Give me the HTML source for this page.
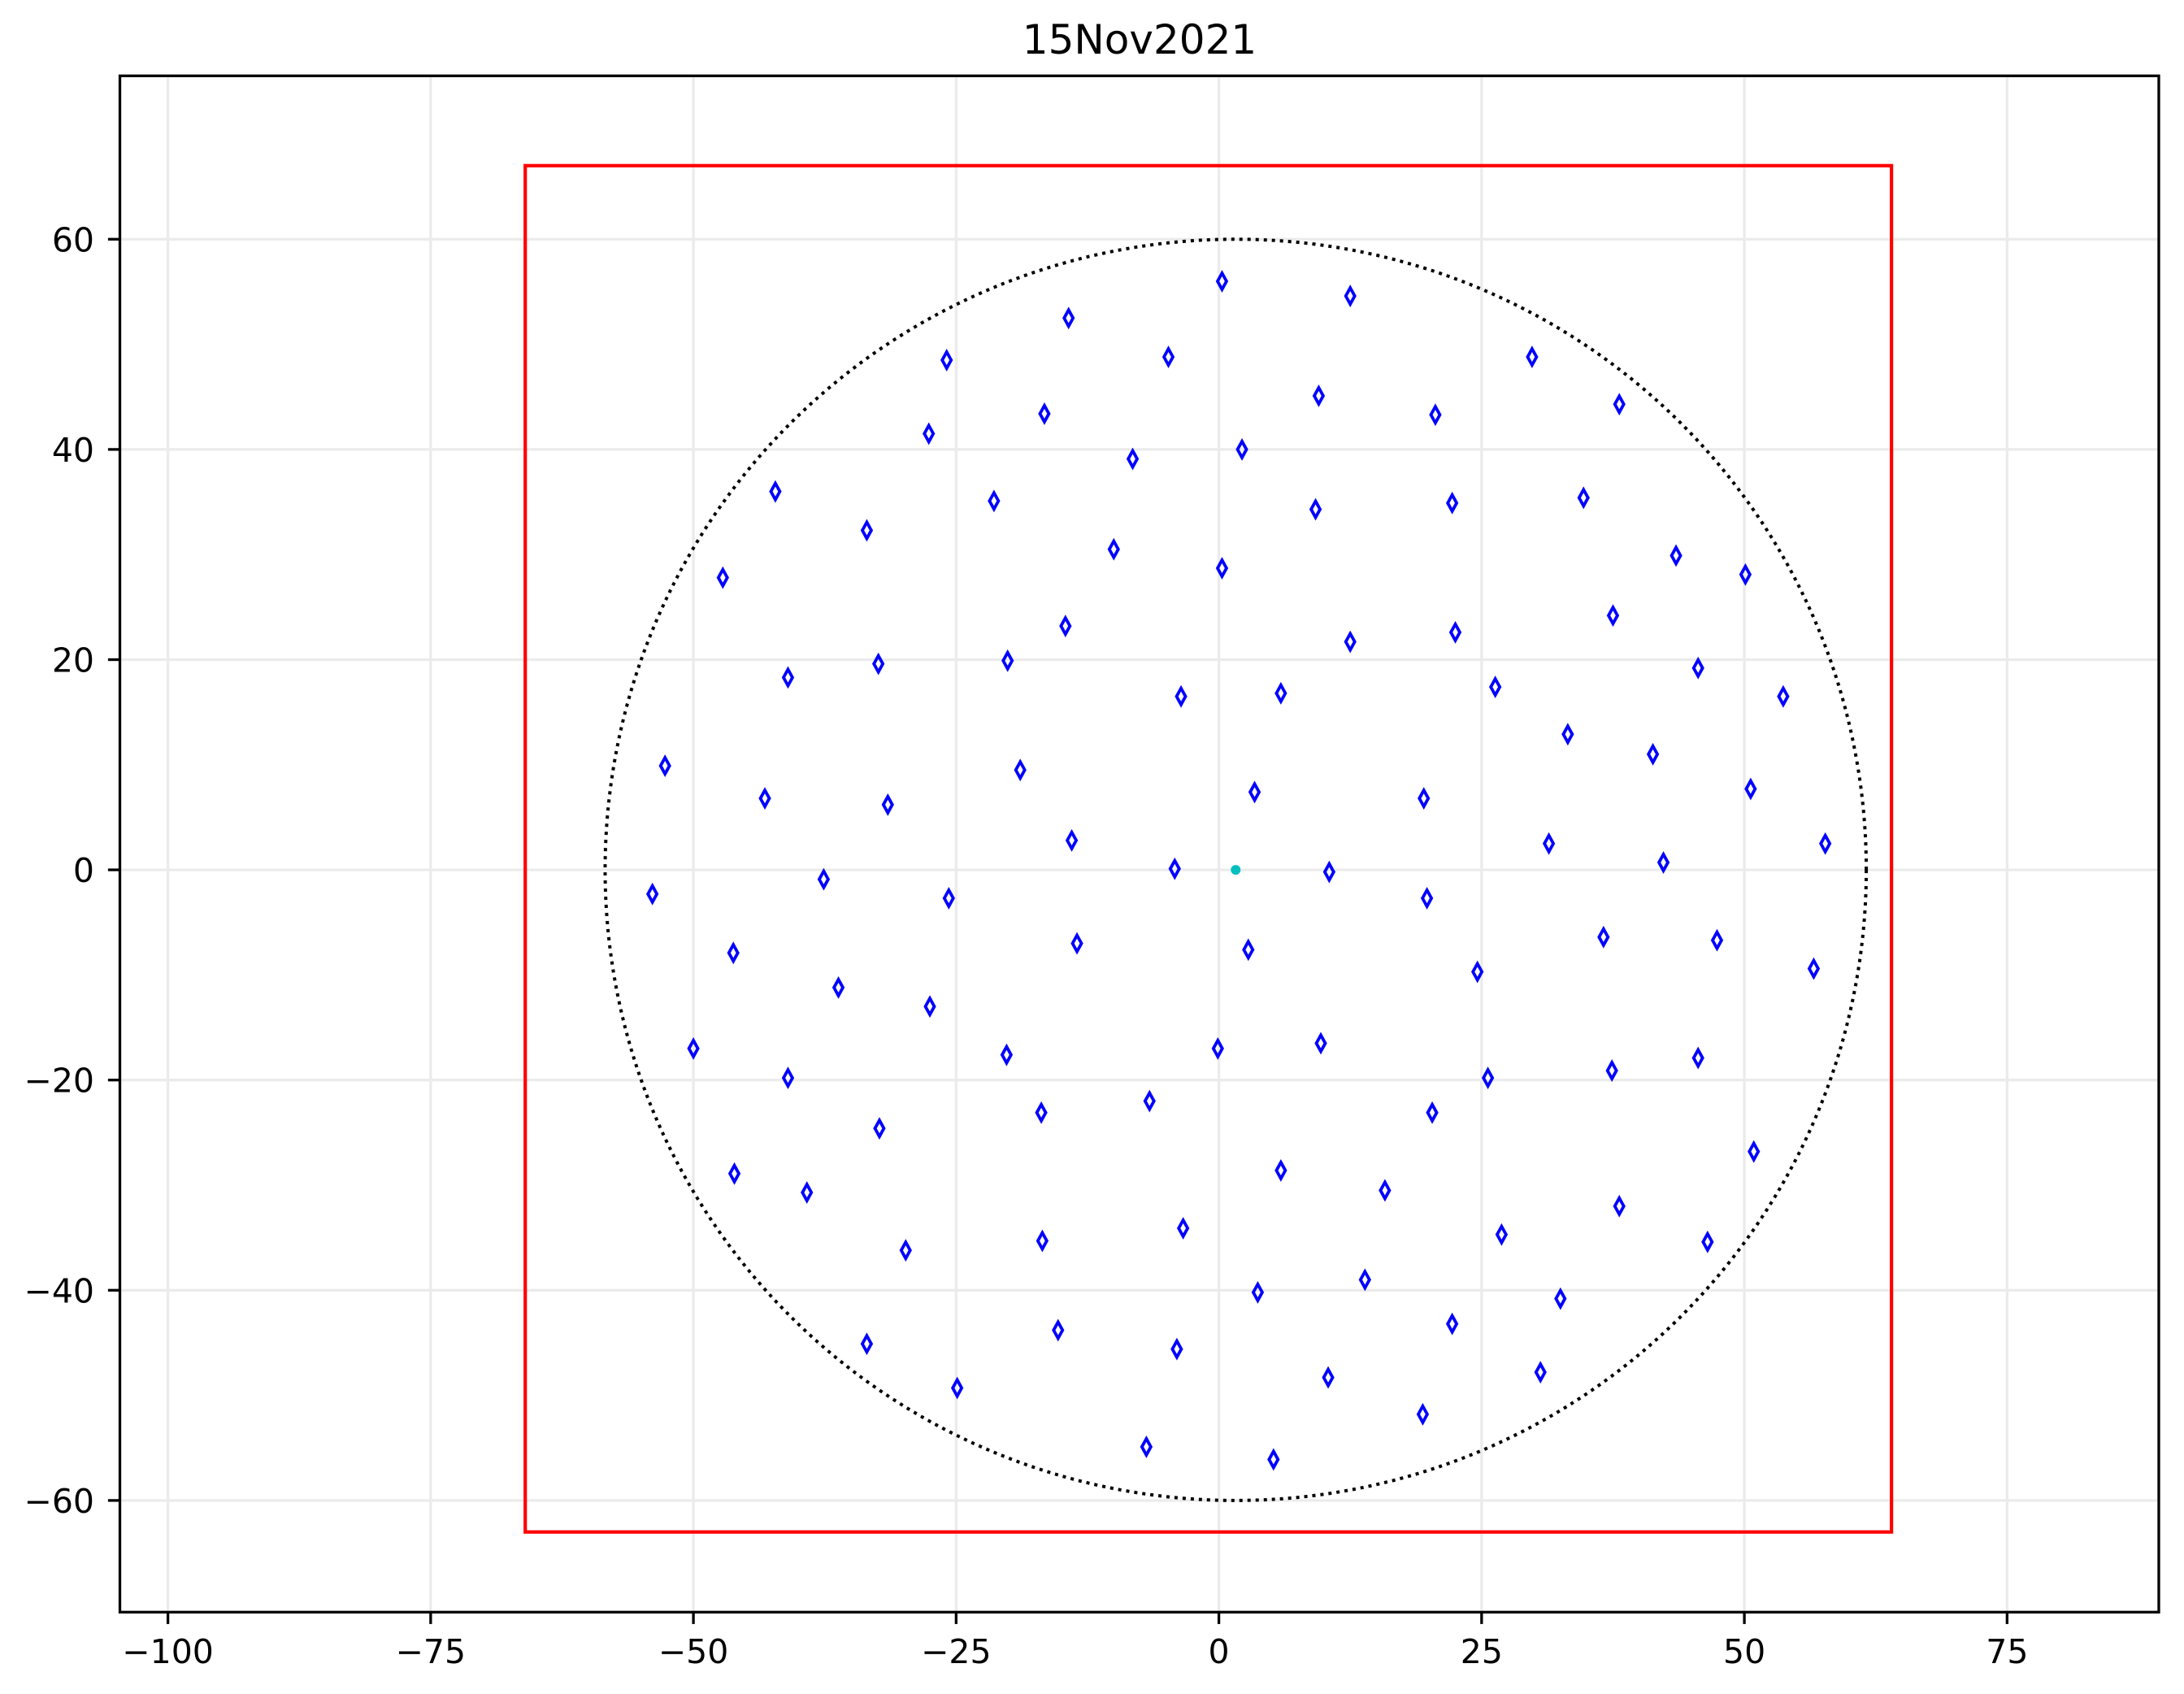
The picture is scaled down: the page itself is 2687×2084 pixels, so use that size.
<!DOCTYPE html>
<html><head><meta charset="utf-8"><style>
body{margin:0;background:#fff}
svg{display:block;font-family:"DejaVu Sans","Liberation Sans",sans-serif}
</style></head><body>
<svg id="chart" width="2687" height="2084" viewBox="0 0 2687 2084" xmlns="http://www.w3.org/2000/svg">
<rect width="2687" height="2084" fill="#fff"/>
<text x="1402" y="66" font-size="50" text-anchor="middle">15Nov2021</text>
<g id="grid"></g>
<g id="shapes"></g>
<g id="marks"></g>
<rect x="147.5" y="93.3" width="2508.5" height="1890" fill="none" stroke="#000" stroke-width="3.3"/>
<g id="ticks"></g>
</svg>
<script>
const xTicks=[-100,-75,-50,-25,0,25,50,75];
const yTicks=[-60,-40,-20,0,20,40,60];
const pointX=[0.3,12.5,-14.3,-4.8,-25.9,29.8,38.1,9.5,-16.6,20.6,-27.6,2.2,-8.2,-42.2,-21.4,22.2,34.7,9.2,-33.5,-10,43.5,0.3,50.1,-47.2,37.5,-14.6,22.5,12.5,-20.1,-32.4,45.6,-41,26.3,5.9,-3.6,53.7,33.2,41.3,-52.7,-18.9,50.6,3.4,19.5,-43.2,-31.5,-14,31.4,57.7,42.3,-4.2,10.5,-37.6,-53.9,-25.7,19.8,36.6,47.4,-13.5,2.8,-46.2,24.6,56.6,-36.2,-27.5,-0.1,9.7,-50,-20.2,45.6,37.4,25.6,-41,-6.6,-16.9,20.3,-32.3,50.9,5.9,-46.1,15.8,-39.2,38.1,26.9,-3.4,-16.8,46.5,-29.8,13.9,3.7,32.5,22.2,-15.3,-33.5,-4,10.4,30.6,-24.9,19.4,-6.9,5.2];
const pointY=[56,54.6,52.5,48.8,48.5,48.8,44.3,45.1,43.4,43.3,41.5,40,39.1,36,35.1,34.9,35.4,34.3,32.3,30.5,29.9,28.7,28.1,27.8,24.2,23.2,22.6,21.7,19.9,19.6,19.2,18.3,17.4,16.8,16.5,16.5,12.9,11,9.9,9.5,7.7,7.4,6.8,6.8,6.2,2.8,2.5,2.5,0.7,0.1,-0.2,-0.9,-2.3,-2.7,-2.7,-6.4,-6.7,-7,-7.6,-7.9,-9.7,-9.4,-11.2,-13,-17,-16.5,-17,-17.6,-17.9,-19.1,-19.8,-19.8,-22,-23.1,-23.1,-24.6,-26.8,-28.6,-28.9,-30.5,-30.7,-32,-34.7,-34.1,-35.3,-35.4,-36.2,-39,-40.2,-40.8,-43.2,-43.8,-45.1,-45.6,-48.3,-47.8,-49.3,-51.8,-54.9,-56.1];
const centerPoint=[1.6,0];
const circleR=[60];
const boxX=[-66,64];
const boxY=[-63,67];

const NS="http://www.w3.org/2000/svg";
const X0=1499.6,Y0=1070.1,S=12.93;
const L=147.5,R=2656,T=93.3,B=1983.3;
const sx=v=>X0+v*S, sy=v=>Y0-v*S;
function mk(tag,attrs,parent){const e=document.createElementNS(NS,tag);for(const k in attrs)e.setAttribute(k,attrs[k]);parent.appendChild(e);return e;}
const grid=document.getElementById('grid'),ticks=document.getElementById('ticks'),shapes=document.getElementById('shapes'),marks=document.getElementById('marks');
xTicks.forEach(v=>{
  const x=sx(v);
  const g=mk('line',{x1:x,x2:x,y1:T,y2:B,stroke:'#ebebeb','stroke-width':3.3},grid);
  
  
  const t=mk('line',{x1:x,x2:x,y1:B,y2:B+14.6,stroke:'#000','stroke-width':3.3},ticks);
  
  
  const l=mk('text',{x:x,y:2046,'font-size':41,'text-anchor':'middle'},ticks);
  l.textContent=(v<0?'\u2212'+Math.abs(v):String(v));
  
  
});
yTicks.forEach(v=>{
  const y=sy(v);
  const g=mk('line',{x1:L,x2:R,y1:y,y2:y,stroke:'#ebebeb','stroke-width':3.3},grid);
  
  
  const t=mk('line',{x1:L-14.6,x2:L,y1:y,y2:y,stroke:'#000','stroke-width':3.3},ticks);
  
  
  const l=mk('text',{x:116,y:y+15,'font-size':41,'text-anchor':'end'},ticks);
  l.textContent=(v<0?'\u2212'+Math.abs(v):String(v));
  
  
});
const box=mk('rect',{x:sx(boxX[0]),y:sy(boxY[1]),width:(boxX[1]-boxX[0])*S,height:(boxY[1]-boxY[0])*S,fill:'none',stroke:'#ff0000','stroke-width':4.2},shapes);


const circ=mk('circle',{cx:sx(centerPoint[0]),cy:sy(centerPoint[1]),r:circleR[0]*S,fill:'none',stroke:'#000','stroke-width':4,'stroke-dasharray':'4,6'},shapes);


pointX.forEach((v,i)=>{
  const x=sx(v),y=sy(pointY[i]);
  const p=mk('path',{d:`M${x},${y-10} L${x+5.5},${y} L${x},${y+10} L${x-5.5},${y} Z`,fill:'none',stroke:'#0000ff','stroke-width':3.8},marks);
  
  
});
const c=mk('circle',{cx:sx(centerPoint[0]),cy:sy(centerPoint[1]),r:6,fill:'#00bfbf'},marks);


</script>
</body></html>
